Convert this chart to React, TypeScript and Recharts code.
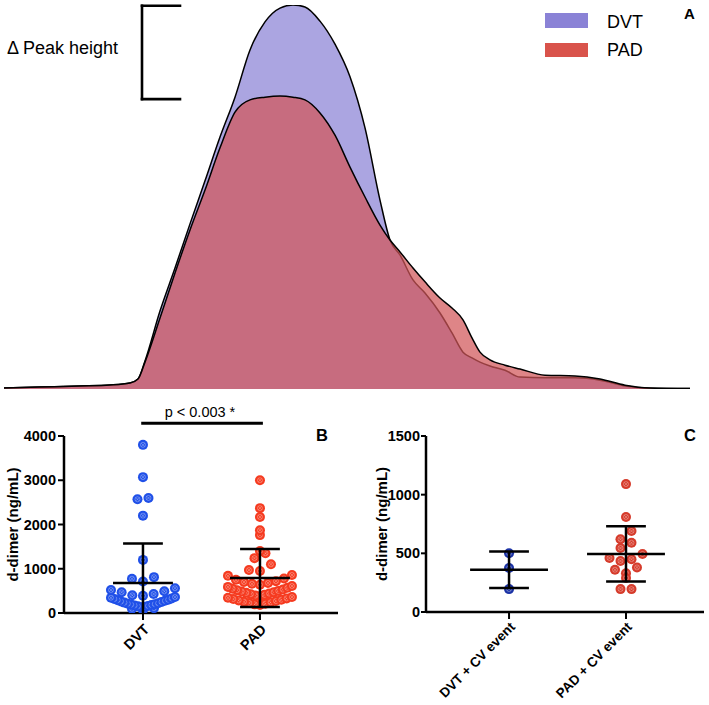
import React from 'react';
import { AreaChart, Area, XAxis, YAxis, ScatterChart, Scatter, ReferenceLine } from 'recharts';

// ---------- Panel A: density curves ----------
const densityX = [4, 40, 80, 110, 130, 138, 145, 160, 175, 190, 205, 220, 235, 250, 265, 280, 293, 305, 320, 335, 350, 365, 380, 390, 400, 413, 425, 440, 452, 463, 472, 480, 490, 505, 520, 545, 575, 600, 625, 650, 690];
const dvtDensity = [0.26, 0.52, 0.78, 1.04, 1.56, 2.6, 7.3, 20.3, 31.5, 43.0, 54.2, 65.6, 76.0, 88.3, 95.6, 99.2, 100, 99.5, 95.8, 89.8, 81.3, 68.0, 49.2, 38.8, 34.9, 28.4, 25.0, 19.8, 14.6, 9.6, 8.1, 7.0, 6.0, 4.9, 3.1, 2.9, 2.9, 2.3, 0.8, 0.2, 0.1];
const padDensity = [0.26, 0.52, 0.78, 1.04, 1.56, 2.6, 7.0, 18.5, 30.2, 41.4, 51.8, 62.8, 72.1, 75.3, 76.0, 76.3, 76.0, 75.3, 71.9, 66.1, 57.8, 50.0, 42.7, 38.8, 35.7, 31.5, 27.9, 23.7, 21.1, 18.0, 13.3, 9.6, 7.6, 6.2, 5.2, 3.6, 3.4, 2.6, 1.0, 0.26, 0.1];
const densityLegend = ['DVT', 'PAD'];

// ---------- Panel B ----------
const bCategories = ['DVT', 'PAD'];
const bYTicks = [0, 1000, 2000, 3000, 4000];
const bDvtValues = [70, 95, 110, 130, 140, 150, 160, 170, 180, 190, 200, 210, 220, 235, 250, 260, 275, 290, 300, 315, 330, 345, 360, 390, 400, 430, 470, 490, 520, 560, 710, 775, 810, 1200, 2200, 2570, 2600, 3070, 3800];
const bPadValues = [180, 195, 210, 225, 240, 255, 270, 285, 300, 315, 330, 345, 360, 380, 395, 410, 425, 440, 455, 470, 485, 500, 515, 530, 550, 570, 590, 610, 640, 660, 680, 700, 720, 750, 780, 840, 860, 950, 970, 1100, 1240, 1350, 1400, 1760, 1870, 2170, 2370, 3000];
const bMeans = [680, 790];
const bSds = [890, 655];
const bPText = 'p < 0.003 *';

// ---------- Panel C ----------
const cCategories = ['DVT + CV event', 'PAD + CV event'];
const cYTicks = [0, 500, 1000, 1500];
const cDvtValues = [500, 375, 195];
const cPadValues = [1090, 810, 690, 620, 590, 545, 495, 460, 450, 435, 380, 360, 330, 290, 195, 195];
const cMeans = [360, 495];
const cSds = [155, 235];

// ---------- geometry / styles ----------
const FONT = '"Liberation Sans", Arial, Helvetica, sans-serif';
const B_W = 350, B_H = 310, B_M = { top: 41, right: 12, bottom: 22, left: 0 }, B_YW = 64, XH = 70;
const C_W = 359, C_H = 310, C_M = { top: 41, right: 5, bottom: 23, left: 0 }, C_YW = 76;
const B_XD: [number, number] = [0.325, 2.667];
const C_XD: [number, number] = [0.29, 2.667];
const DOT_R = 5;
const ROW_PX = 11;
const SPACING_PX = 11;
const MAX_ROW_PX = 64;

function swarm(values: number[], center: number, pxPerValue: number, pxPerX: number) {
  const rows = new Map<number, number[]>();
  values.forEach((v) => {
    const r = Math.round((v * pxPerValue) / ROW_PX);
    if (!rows.has(r)) rows.set(r, []);
    rows.get(r)!.push(v);
  });
  const pts: { x: number; y: number }[] = [];
  rows.forEach((vals) => {
    vals.sort((a, b) => a - b);
    const n = vals.length;
    const sp = n > 1 ? Math.min(SPACING_PX, MAX_ROW_PX / (n - 1)) : 0;
    const slots = Array.from({ length: n }, (_, j) => (j - (n - 1) / 2) * sp);
    slots.sort((a, b) => Math.abs(a) - Math.abs(b) || a - b);
    vals.forEach((v, i) => pts.push({ x: center + slots[i] / pxPerX, y: v }));
  });
  return pts;
}

const bPlotH = B_H - B_M.top - B_M.bottom - XH;
const bPlotW = B_W - B_M.left - B_M.right - B_YW;
const bPxV = bPlotH / bYTicks[bYTicks.length - 1];
const bPxX = bPlotW / (B_XD[1] - B_XD[0]);
const cPlotH = C_H - C_M.top - C_M.bottom - XH;
const cPlotW = C_W - C_M.left - C_M.right - C_YW;
const cPxV = cPlotH / cYTicks[cYTicks.length - 1];
const cPxX = cPlotW / (C_XD[1] - C_XD[0]);

const bDvtPts = swarm(bDvtValues, 1, bPxV, bPxX);
const bPadPts = swarm(bPadValues, 2, bPxV, bPxX);
const cDvtPts = swarm(cDvtValues, 1, cPxV, cPxX);
const cPadPts = swarm(cPadValues, 2, cPxV, cPxX);

const densityRows = densityX.map((x, i) => ({ x, dvt: dvtDensity[i], pad: padDensity[i] }));
const dvtPeak = Math.max(...dvtDensity);
const padPeak = Math.max(...padDensity);

const makeDot = (color: string) => (props: any) => {
  const { cx, cy } = props;
  if (cx == null || cy == null) return <g />;
  const k = 1.5;
  return (
    <g>
      <circle cx={cx} cy={cy} r={DOT_R} fill={color} />
      <circle cx={cx} cy={cy} r={2.5} fill="none" stroke="#fff" strokeWidth={0.6} strokeOpacity={0.5} />
      <path d={`M${cx - k},${cy - k}L${cx + k},${cy + k}M${cx - k},${cy + k}L${cx + k},${cy - k}`} stroke="#fff" strokeWidth={0.6} strokeOpacity={0.5} />
    </g>
  );
};

function errorBars(prefix: string, means: number[], sds: number[], meanHalf: number, capHalf: number) {
  const out: any[] = [];
  means.forEach((m, i) => {
    const cx = i + 1;
    const hi = m + sds[i];
    const loRaw = m - sds[i];
    const lo = Math.max(0, loRaw);
    const common = { stroke: '#000', strokeWidth: 2.5, ifOverflow: 'visible' as const, zIndex: 800 };
    out.push(<ReferenceLine key={`${prefix}v${i}`} segment={[{ x: cx, y: lo }, { x: cx, y: hi }]} {...common} />);
    out.push(<ReferenceLine key={`${prefix}m${i}`} segment={[{ x: cx - meanHalf, y: m }, { x: cx + meanHalf, y: m }]} {...common} />);
    out.push(<ReferenceLine key={`${prefix}h${i}`} segment={[{ x: cx - capHalf, y: hi }, { x: cx + capHalf, y: hi }]} {...common} />);
    if (loRaw > 0) {
      out.push(<ReferenceLine key={`${prefix}l${i}`} segment={[{ x: cx - capHalf, y: lo }, { x: cx + capHalf, y: lo }]} {...common} />);
    }
  });
  return out;
}

const tickStyle = { fill: '#000', fontSize: 14.5, fontWeight: 700, fontFamily: FONT };
const cXTickStyle = { fill: '#000', fontSize: 13.5, fontWeight: 700, fontFamily: FONT };
const axisLine = { stroke: '#000', strokeWidth: 2.5 };
const tickLine = { stroke: '#000', strokeWidth: 2 };
const yLabel = (offset: number) => ({
  value: 'd-dimer (ng/mL)',
  angle: -90,
  position: 'insideLeft' as const,
  offset,
  style: { textAnchor: 'middle', fontWeight: 700, fontSize: 15, fill: '#000', fontFamily: FONT },
});

const abs = (left: number, top: number, extra: any = {}) => ({ position: 'absolute' as const, left, top, ...extra });

export default function App() {
  return (
    <div style={{ position: 'absolute', left: 0, top: 0, width: 709, height: 705, background: '#fff', fontFamily: FONT, overflow: 'hidden' }}>
      {/* Panel A */}
      <div style={abs(0, 0)}>
        <AreaChart width={709} height={395} data={densityRows} margin={{ top: 5, right: 9, bottom: 6, left: 0 }}>
          <XAxis dataKey="x" type="number" domain={[0, 700]} hide allowDataOverflow />
          <YAxis type="number" domain={[0, 100]} hide allowDataOverflow />
          <Area dataKey="dvt" type="monotone" stroke="#000" strokeWidth={1.5} fill="#8a82d6" fillOpacity={0.72} isAnimationActive={false} dot={false} activeDot={false} />
          <Area dataKey="pad" type="monotone" stroke="#000" strokeWidth={1.5} fill="#d15659" fillOpacity={0.72} isAnimationActive={false} dot={false} activeDot={false} />
          <ReferenceLine segment={[{ x: 142, y: padPeak - 0.8 }, { x: 142, y: dvtPeak - 0.2 }]} stroke="#000" strokeWidth={2.6} strokeLinecap="square" ifOverflow="visible" />
          <ReferenceLine segment={[{ x: 142, y: dvtPeak - 0.2 }, { x: 180, y: dvtPeak - 0.2 }]} stroke="#000" strokeWidth={2.6} strokeLinecap="square" ifOverflow="visible" />
          <ReferenceLine segment={[{ x: 142, y: padPeak - 0.8 }, { x: 180, y: padPeak - 0.8 }]} stroke="#000" strokeWidth={2.6} strokeLinecap="square" ifOverflow="visible" />
        </AreaChart>
      </div>
      <div style={abs(7, 39, { fontSize: 18, lineHeight: '18px', color: '#000', whiteSpace: 'nowrap' })}>Δ Peak height</div>
      <div style={abs(545, 13, { width: 43, height: 15, background: '#8a82d6' })} />
      <div style={abs(545, 43, { width: 43, height: 14, background: '#d9534b' })} />
      <div style={abs(607, 12.7, { fontSize: 18, lineHeight: '18px', color: '#000' })}>{densityLegend[0]}</div>
      <div style={abs(607, 41.2, { fontSize: 18, lineHeight: '18px', color: '#000' })}>{densityLegend[1]}</div>
      <div style={abs(684, 5.7, { fontSize: 15, lineHeight: '15px', fontWeight: 700, color: '#000' })}>A</div>

      {/* Panel B */}
      <div style={abs(0, 395)}>
        <ScatterChart width={B_W} height={B_H} margin={B_M}>
          <XAxis dataKey="x" type="number" domain={B_XD} ticks={[1, 2]} interval={0} allowDataOverflow
            tickFormatter={(v: number) => bCategories[Math.round(v) - 1]} height={XH} angle={-45} textAnchor="end"
            tick={tickStyle} tickSize={7} tickMargin={3} axisLine={axisLine} tickLine={tickLine} />
          <YAxis dataKey="y" type="number" domain={[0, bYTicks[bYTicks.length - 1]]} ticks={bYTicks} interval={0} allowDataOverflow
            width={B_YW} tick={tickStyle} tickSize={6} tickMargin={2} axisLine={axisLine} tickLine={tickLine} label={yLabel(13)} />
          <Scatter data={bDvtPts} fill="#2050e8" shape={makeDot('#2050e8')} isAnimationActive={false} />
          <Scatter data={bPadPts} fill="#f53b20" shape={makeDot('#f53b20')} isAnimationActive={false} />
          {errorBars('b', bMeans, bSds, 0.256, 0.17)}
          <ReferenceLine segment={[{ x: 0.985, y: 4290 }, { x: 2.025, y: 4290 }]} stroke="#000" strokeWidth={3} ifOverflow="visible" />
        </ScatterChart>
      </div>
      <div style={abs(150, 404.7, { width: 100, textAlign: 'center', fontSize: 14.5, lineHeight: '15px', color: '#000', whiteSpace: 'nowrap' })}>{bPText}</div>
      <div style={abs(316, 427, { fontSize: 16.5, lineHeight: '16.5px', fontWeight: 700, color: '#000' })}>B</div>

      {/* Panel C */}
      <div style={abs(350, 395)}>
        <ScatterChart width={C_W} height={C_H} margin={C_M}>
          <XAxis dataKey="x" type="number" domain={C_XD} ticks={[1, 2]} interval={0} allowDataOverflow
            tickFormatter={(v: number) => cCategories[Math.round(v) - 1]} height={XH} angle={-45} textAnchor="end"
            tick={cXTickStyle} tickSize={7} tickMargin={2} axisLine={axisLine} tickLine={tickLine} />
          <YAxis dataKey="y" type="number" domain={[0, cYTicks[cYTicks.length - 1]]} ticks={cYTicks} interval={0} allowDataOverflow
            width={C_YW} tick={tickStyle} tickSize={5} tickMargin={1} axisLine={axisLine} tickLine={tickLine} label={yLabel(32)} />
          <Scatter data={cDvtPts} fill="#1c33a6" shape={makeDot('#1c33a6')} isAnimationActive={false} />
          <Scatter data={cPadPts} fill="#d63b2b" shape={makeDot('#d63b2b')} isAnimationActive={false} />
          {errorBars('c', cMeans, cSds, 0.333, 0.17)}
        </ScatterChart>
      </div>
      <div style={abs(684, 427, { fontSize: 16.5, lineHeight: '16.5px', fontWeight: 700, color: '#000' })}>C</div>
    </div>
  );
}
